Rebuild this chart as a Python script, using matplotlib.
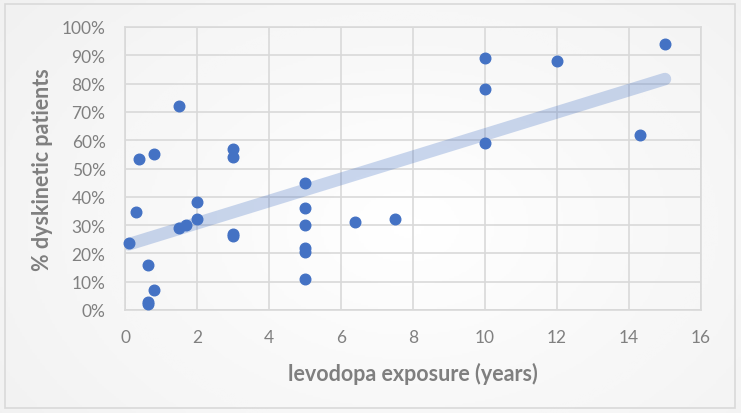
import numpy as np
import matplotlib
matplotlib.use("Agg")
import matplotlib.pyplot as plt
from matplotlib.patches import Rectangle

plt.rcParams['font.family'] = ['Lato', 'DejaVu Sans']

# levodopa exposure (years) vs % dyskinetic patients
years = [0.1, 0.3, 0.4, 0.65, 0.65, 0.65, 0.8, 0.8, 1.5, 1.5, 1.7, 2, 2,
         3, 3, 3, 3, 5, 5, 5, 5, 5, 5, 6.4, 7.5, 10, 10, 10, 12, 14.3, 15]
dysk = [23.5, 34.5, 53.5, 16, 3, 2, 7, 55, 72, 29, 30, 38, 32,
        57, 54, 27, 26, 45, 36, 30, 22, 20.5, 11, 31, 32, 89, 78, 59, 88, 62, 94]
x_ticks = [0, 2, 4, 6, 8, 10, 12, 14, 16]
y_ticks = [0, 10, 20, 30, 40, 50, 60, 70, 80, 90, 100]

x = np.array(years)
y = np.array(dysk)

fig = plt.figure(figsize=(7.41, 4.14), dpi=100)

# background with soft gradient
bg = fig.add_axes([0, 0, 1, 1], zorder=0)
gx, gy = np.meshgrid(np.linspace(0, 1, 300), np.linspace(0, 1, 200))
grad = np.clip(np.hypot(gx - 0.55, (gy - 0.55) * 0.8), 0, 1)
bg.imshow(grad, cmap='Greys', vmin=0, vmax=6, extent=[0, 1, 0, 1], aspect='auto')
bg.add_patch(Rectangle((0.007, 0.012), 0.985, 0.975, fill=False, edgecolor='#d9d9d9', lw=1.2))
bg.set_xlim(0, 1)
bg.set_ylim(0, 1)
bg.axis('off')

ax = fig.add_axes([125 / 741, 1 - 311 / 414, 576 / 741, 283 / 414], zorder=1)
ax.patch.set_alpha(0)

# linear trendline
k, b = np.polyfit(x, y, 1)
tx = np.array([x.min(), x.max()])
ax.plot(tx, k * tx + b, color='#4472c4', alpha=0.28, lw=9, solid_capstyle='round', zorder=2)

ax.scatter(x, y, s=58, color='#4472c4', zorder=3, clip_on=False)

ax.set_xlim(0, 16)
ax.set_ylim(0, 100)
ax.set_xticks(x_ticks)
ax.set_yticks(y_ticks)
ax.set_yticklabels([f'{v}%' for v in y_ticks])
ax.grid(True, color='#d9d9d9', lw=1.2)
ax.set_axisbelow(True)
for s in ax.spines.values():
    s.set_color('#d9d9d9')
    s.set_linewidth(1.2)
ax.tick_params(length=0, labelsize=12.5, colors='#808080')
ax.tick_params(axis='y', pad=14)
ax.tick_params(axis='x', pad=14)

ax.set_xlabel('levodopa exposure (years)', fontsize=15.5, fontweight='bold', color='#7f7f7f', labelpad=12)
ax.set_ylabel('% dyskinetic patients', fontsize=15.5, fontweight='bold', color='#7f7f7f', labelpad=6)

fig.savefig('out.png', dpi=100)
